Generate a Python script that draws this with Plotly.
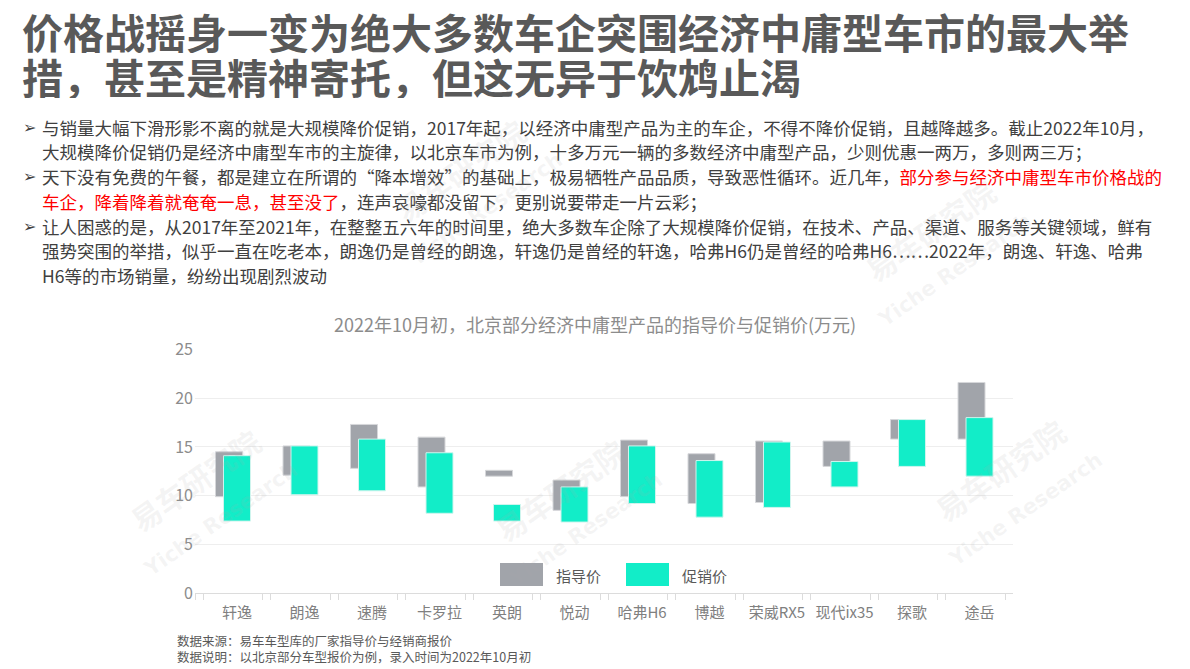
import plotly.graph_objects as go

W, H = 1190, 669

# ---------------- data ----------------
categories = ['轩逸', '朗逸', '速腾', '卡罗拉', '英朗', '悦动', '哈弗H6', '博越', '荣威RX5', '现代ix35', '探歌', '途岳']
guide_low = [9.9, 12.1, 12.8, 10.9, 12.0, 8.5, 9.9, 9.2, 9.3, 13.0, 15.8, 15.8]
guide_high = [14.5, 15.1, 17.3, 16.0, 12.6, 11.6, 15.7, 14.3, 15.6, 15.6, 17.8, 21.6]
promo_low = [7.4, 10.1, 10.5, 8.2, 7.4, 7.3, 9.2, 7.8, 8.8, 10.9, 13.0, 12.0]
promo_high = [14.1, 15.1, 15.8, 14.4, 9.1, 10.9, 15.1, 13.6, 15.5, 13.5, 17.8, 18.0]
series_names = ['指导价', '促销价']
y_ticks = [0, 5, 10, 15, 20, 25]

title_lines = ['价格战摇身一变为绝大多数车企突围经济中庸型车市的最大举',
               '措，甚至是精神寄托，但这无异于饮鸩止渴']
chart_title = '2022年10月初，北京部分经济中庸型产品的指导价与促销价(万元)'
RED = '#FF0000'
body_lines = [
    (True, '与销量大幅下滑形影不离的就是大规模降价促销，2017年起，以经济中庸型产品为主的车企，不得不降价促销，且越降越多。截止2022年10月，'),
    (False, '大规模降价促销仍是经济中庸型车市的主旋律，以北京车市为例，十多万元一辆的多数经济中庸型产品，少则优惠一两万，多则两三万；'),
    (True, '天下没有免费的午餐，都是建立在所谓的“降本增效”的基础上，极易牺牲产品品质，导致恶性循环。近几年，'
           f'<span style="color:{RED}">部分参与经济中庸型车市价格战的</span>'),
    (False, f'<span style="color:{RED}">车企，降着降着就奄奄一息，甚至没了</span>，连声哀嚎都没留下，更别说要带走一片云彩；'),
    (True, '让人困惑的是，从2017年至2021年，在整整五六年的时间里，绝大多数车企除了大规模降价促销，在技术、产品、渠道、服务等关键领域，鲜有'),
    (False, '强势突围的举措，似乎一直在吃老本，朗逸仍是曾经的朗逸，轩逸仍是曾经的轩逸，哈弗H6仍是曾经的哈弗H6……2022年，朗逸、轩逸、哈弗'),
    (False, 'H6等的市场销量，纷纷出现剧烈波动'),
]
footnotes = ['数据来源：易车车型库的厂家指导价与经销商报价',
             '数据说明：以北京部分车型报价为例，录入时间为2022年10月初']

FONT = 'Noto Sans CJK SC'
GREY = '#A1A4AA'
GREEN = '#12EDC8'
OFF = 8  # page body margin offset

def px(x):
    return (x - OFF) / W

def py(y):
    return 1 - (y - OFF) / H

guide_h = [h - l for l, h in zip(guide_low, guide_high)]
promo_h = [h - l for l, h in zip(promo_low, promo_high)]

fig = go.Figure()
fig.add_trace(go.Bar(x=categories, y=guide_h, base=guide_low, name=series_names[0],
                     width=0.4, marker=dict(color=GREY, line=dict(color='#D6D7DA', width=1)),
                     xaxis='x', yaxis='y', showlegend=False, hoverinfo='skip'))
fig.add_trace(go.Bar(x=categories, y=promo_h, base=promo_low, name=series_names[1],
                     width=0.4, marker=dict(color=GREEN, line=dict(color='#CFF5EE', width=1)),
                     xaxis='x2', yaxis='y', showlegend=False, hoverinfo='skip'))

# plot area geometry (target page pixels)
x_left, x_right = 195, 1013
cat_px = 67.5
r0 = -(229 - x_left) / cat_px
r1 = r0 + (x_right - x_left) / cat_px
shift = 8 / cat_px

fig.update_layout(
    width=W, height=H,
    margin=dict(l=0, r=0, t=0, b=0, autoexpand=False),
    paper_bgcolor='white', plot_bgcolor='white',
    barmode='overlay',
    font=dict(family=FONT),
    xaxis=dict(domain=[px(x_left), px(x_right)], range=[r0, r1], type='category',
               showgrid=False, showline=True, linecolor='#DCDCDC', linewidth=1,
               ticks='outside', tickson='boundaries', ticklen=6, tickcolor='#DCDCDC',
               showticklabels=False, zeroline=False, fixedrange=True, automargin=False),
    xaxis2=dict(overlaying='x', anchor='y', range=[r0 - shift, r1 - shift], type='category',
                showgrid=False, showline=False,
                ticks='outside', tickson='boundaries', ticklen=6, tickcolor='#DCDCDC',
                tickfont=dict(family=FONT, size=15, color='#808080'), ticklabelstandoff=9,
                zeroline=False, fixedrange=True, automargin=False),
    yaxis=dict(domain=[py(593.3), py(349.3)], range=[0, 25], tickvals=y_ticks,
               showgrid=True, gridcolor='#EEEEEE', gridwidth=1, zeroline=False,
               showline=False, ticks='', tickfont=dict(family=FONT, size=16, color='#8C8C8C'),
               ticklabelstandoff=1, fixedrange=True, automargin=False),
)

ann = []
# page title
for i, t in enumerate(title_lines):
    ann.append(dict(text=f'<b>{t}</b>', x=px(20), y=py(31 + i * 45), xref='paper', yref='paper',
                    xanchor='left', yanchor='middle', valign='middle', height=44, showarrow=False,
                    font=dict(family=FONT, size=41, color='#595959')))
# body text
y0 = 127
for i, (bullet, t) in enumerate(body_lines):
    yy = y0 + i * 24.8
    if bullet:
        ann.append(dict(text='➢', x=px(21), y=py(yy), xref='paper', yref='paper',
                        xanchor='left', yanchor='middle', showarrow=False,
                        font=dict(family='DejaVu Sans', size=16, color='#404040')))
    ann.append(dict(text=t, x=px(40), y=py(yy), xref='paper', yref='paper',
                    xanchor='left', yanchor='middle', showarrow=False,
                    font=dict(family=FONT, size=17.5, color='#404040')))
# chart title
ann.append(dict(text=chart_title, x=px(595), y=py(324), xref='paper', yref='paper',
                xanchor='center', yanchor='middle', showarrow=False,
                font=dict(family=FONT, size=18, color='#8C8C8C')))
# legend labels
ann.append(dict(text=series_names[0], x=px(554), y=py(575), xref='paper', yref='paper',
                xanchor='left', yanchor='middle', showarrow=False,
                font=dict(family=FONT, size=15, color='#595959')))
ann.append(dict(text=series_names[1], x=px(680), y=py(575), xref='paper', yref='paper',
                xanchor='left', yanchor='middle', showarrow=False,
                font=dict(family=FONT, size=15, color='#595959')))
# footnotes
for i, t in enumerate(footnotes):
    ann.append(dict(text=t, x=px(175), y=py(640 + i * 16), xref='paper', yref='paper',
                    xanchor='left', yanchor='middle', valign='middle', height=15, showarrow=False,
                    font=dict(family=FONT, size=12.5, color='#595959')))
# watermarks
wm = [(195, 480), (560, 490), (1000, 470), (460, 170), (930, 230)]
for (wx, wy) in wm:
    ann.append(dict(text='<b>易车研究院</b>', x=px(wx), y=py(wy), xref='paper', yref='paper',
                    xanchor='center', yanchor='middle', showarrow=False, textangle=-35,
                    font=dict(family=FONT, size=30, color='rgba(170,170,170,0.13)')))
    ann.append(dict(text='<b>Yiche Research</b>', x=px(wx + 25), y=py(wy + 40), xref='paper', yref='paper',
                    xanchor='center', yanchor='middle', showarrow=False, textangle=-35,
                    font=dict(family='DejaVu Sans', size=21, color='rgba(170,170,170,0.13)')))

fig.update_layout(annotations=ann)

# legend swatches
fig.update_layout(shapes=[
    dict(type='rect', xref='paper', yref='paper', x0=px(500), x1=px(543), y0=py(586), y1=py(563),
         fillcolor=GREY, line=dict(width=0)),
    dict(type='rect', xref='paper', yref='paper', x0=px(626), x1=px(669), y0=py(586), y1=py(563),
         fillcolor=GREEN, line=dict(width=0)),
])

fig.write_html('out.html')
